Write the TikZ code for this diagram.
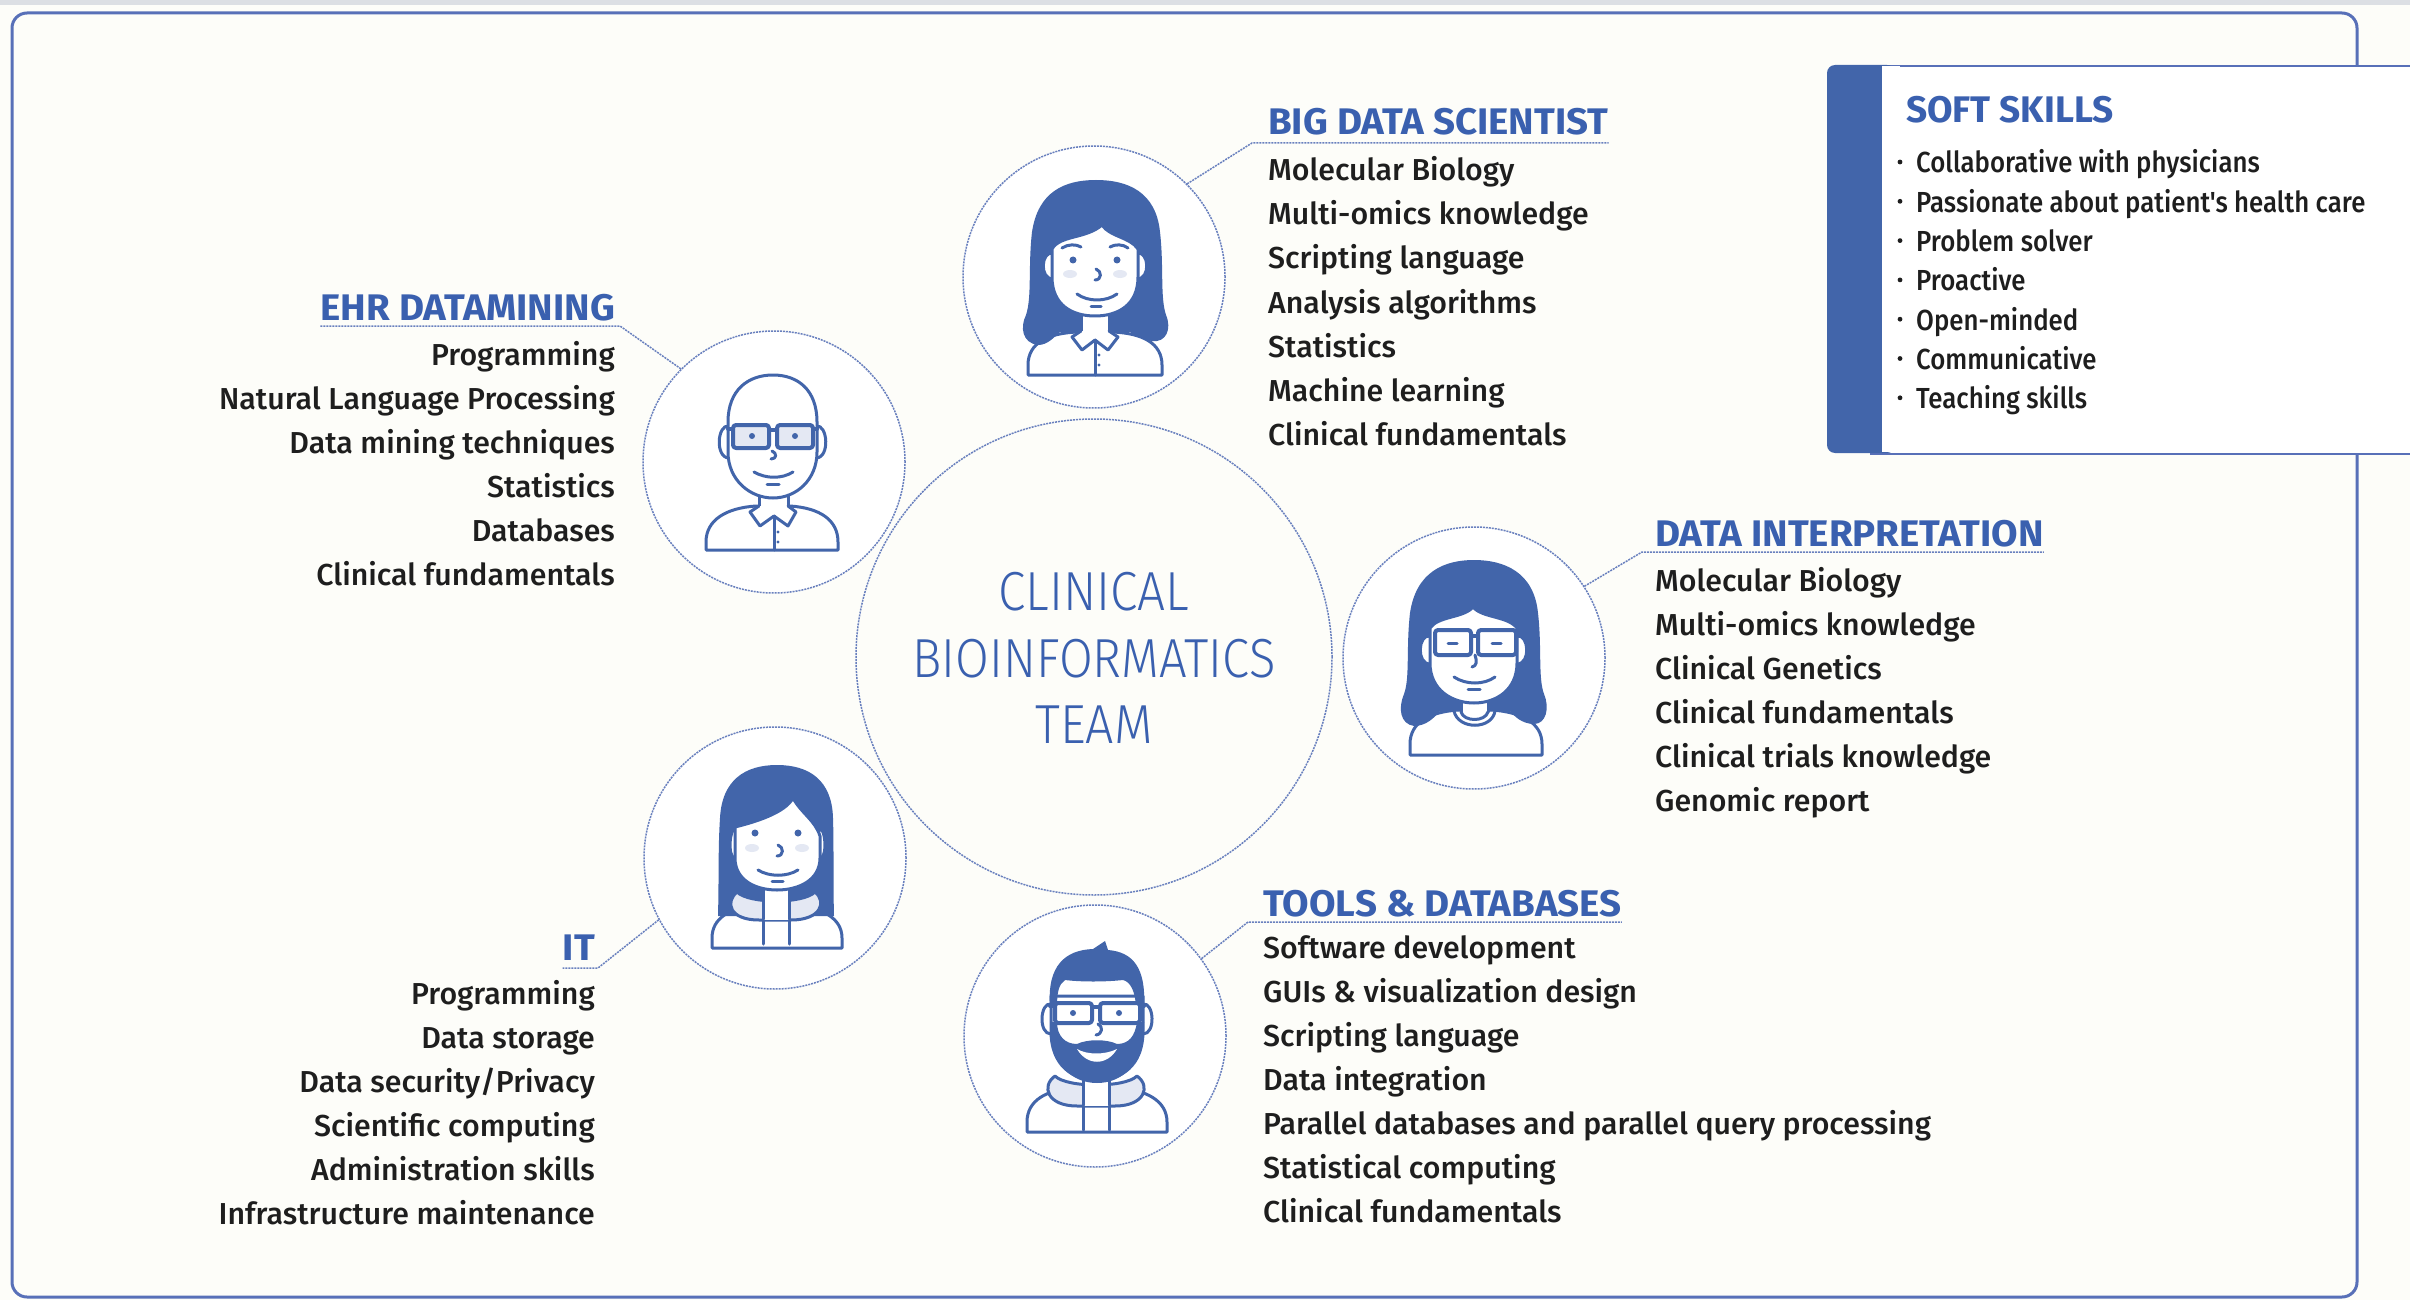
\documentclass[tikz,border=0pt]{standalone}
\usepackage{fontspec}
\setmainfont{Fira Sans}
\IfFontExistsTF{Fira Sans Light}{\newfontfamily\lightfont{Fira Sans Light}}{\newfontfamily\lightfont{Fira Sans}}
\IfFontExistsTF{Fira Sans Medium}{\newfontfamily\itemfont{Fira Sans Medium}}{\newfontfamily\itemfont{Fira Sans}}
\newcommand\headfont{\bfseries}
\newcommand\hd[1]{\scalebox{1.04}[1]{#1}}

\definecolor{hblue}{RGB}{58,96,175}
\definecolor{ablue}{RGB}{66,101,170}
\definecolor{dotblue}{RGB}{105,128,190}
\definecolor{frameblue}{RGB}{88,112,184}
\definecolor{ink}{RGB}{30,30,30}
\definecolor{paper}{RGB}{253,253,249}
\definecolor{strip}{RGB}{220,223,228}
\definecolor{blush}{RGB}{228,232,243}

\tikzset{
  ring/.style={circle, draw=dotblue, line width=1.5pt, dash pattern=on 2pt off 1pt, minimum size=262pt, inner sep=0pt},
  hub/.style={ring, minimum size=476pt},
  link/.style={draw=dotblue, line width=1.5pt, dash pattern=on 2pt off 1pt},
  head/.style={font=\headfont\fontsize{37}{40}\selectfont, text=hblue, inner sep=0pt},
  item/.style={font=\itemfont\fontsize{30.3}{36}\selectfont, text=ink, inner sep=0pt},
  hubtext/.style={font=\lightfont\fontsize{55}{60}\selectfont, text=hblue, inner sep=0pt},
  softhead/.style={font=\headfont\fontsize{37}{40}\selectfont, text=hblue, inner sep=0pt},
  softitem/.style={font=\itemfont\fontsize{29}{34}\selectfont, text=ink, inner sep=0pt},
  av/.style={draw=ablue, line width=3pt, line join=round, line cap=round},
  avf/.style={av, fill=white},
  glass/.style={av, line width=4pt, rounded corners=3pt},
}

\begin{document}
\begin{tikzpicture}[x=1pt, y=-1pt]
\useasboundingbox (0,0) rectangle (2410,1300);
\fill[paper] (0,0) rectangle (2410,1300);
\fill[strip] (0,0) rectangle (2410,5);

% outer frame
\draw[frameblue, line width=3pt, rounded corners=15pt] (12,13) rectangle (2357,1297);

% soft skills panel
\node[draw=frameblue, line width=2pt, fill=white, minimum width=560pt, minimum height=388pt, anchor=north west, inner sep=0pt] (soft) at (1870,65) {};
\fill[ablue, rounded corners=8pt] (1827,65) rectangle (1895,453);
\fill[white] (1882,66) rectangle (1900,452);
\node[softhead, anchor=base west] (softT) at (1906,123) {SOFT SKILLS};
\foreach \t [count=\i from 0] in {Collaborative with physicians, Passionate about patient's health care, Problem solver, Proactive, Open-minded, Communicative, Teaching skills}{
  \node[softitem, anchor=base west] (softI\i) at (1916,173+39.3*\i) {\scalebox{0.89}[1]{\t}};
  \fill[ink] (1900,162+39.3*\i) circle (2.4pt);
}

% central hub
\node[hub] (hub) at (1094,657) {};
\node[hubtext, anchor=base] (hubA) at (1094,610) {\scalebox{0.9}[1]{CLINICAL}};
\node[hubtext, anchor=base] (hubB) at (1094,677) {\scalebox{0.89}[1]{BIOINFORMATICS}};
\node[hubtext, anchor=base] (hubC) at (1094,743) {\scalebox{0.91}[1]{TEAM}};

% avatar rings
\node[ring, fill=white] (bds) at (1094,277) {};
\node[ring, fill=white] (ehr) at (774,462) {};
\node[ring, fill=white] (di) at (1474,658) {};
\node[ring, fill=white] (it) at (775,858) {};
\node[ring, fill=white] (tools) at (1095,1036) {};

% ---------- Big data scientist ----------
\node[head, anchor=base west] (bdsH) at (1268,135) {\hd{BIG DATA SCIENTIST}};
\coordinate (bdsU) at (1252,143);
\draw[link] (bds.45) -- (bdsU) -- (bdsU -| bdsH.east);
\foreach \t [count=\i from 0] in {Molecular Biology, Multi-omics knowledge, Scripting language, Analysis algorithms, Statistics, Machine learning, Clinical fundamentals}{
  \node[item, anchor=base west] (bdsI\i) at (1268,181+44*\i) {\t};
}

% ---------- EHR datamining ----------
\node[head, anchor=base east] (ehrH) at (615,320) {\hd{EHR DATAMINING}};
\coordinate (ehrU) at (620,326);
\draw[link] (ehr.135) -- (ehrU) -- (ehrU -| ehrH.west);
\foreach \t [count=\i from 0] in {Programming, Natural Language Processing, Data mining techniques, Statistics, Databases, Clinical fundamentals}{
  \node[item, anchor=base east] (ehrI\i) at (615,365+44*\i) {\t};
}

% ---------- Data interpretation ----------
\node[head, anchor=base west] (diH) at (1655,546) {\hd{DATA INTERPRETATION}};
\coordinate (diU) at (1642,552);
\draw[link] (di.33) -- (diU) -- (diU -| diH.east);
\foreach \t [count=\i from 0] in {Molecular Biology, Multi-omics knowledge, Clinical Genetics, Clinical fundamentals, Clinical trials knowledge, Genomic report}{
  \node[item, anchor=base west] (diI\i) at (1655,591+44*\i) {\t};
}

% ---------- IT ----------
\node[head, anchor=base east] (itH) at (595,960) {\hd{IT}};
\coordinate (itU) at (598,968);
\draw[link] (it.208) -- (itU) -- (itU -| itH.west);
\foreach \t [count=\i from 0] in {Programming, Data storage, Data security/Privacy, Scientific computing, Administration skills, Infrastructure maintenance}{
  \node[item, anchor=base east] (itI\i) at (595,1004+44*\i) {\t};
}

% ---------- Tools & databases ----------
\node[head, anchor=base west] (toolsH) at (1263,916) {\hd{TOOLS \& DATABASES}};
\coordinate (toolsU) at (1248,922);
\draw[link] (tools.36) -- (toolsU) -- (toolsU -| toolsH.east);
\foreach \t [count=\i from 0] in {Software development, GUIs \& visualization design, Scripting language, Data integration, Parallel databases and parallel query processing, Statistical computing, Clinical fundamentals}{
  \node[item, anchor=base west] (toolsI\i) at (1263,958+44*\i) {\t};
}

% ---------- avatar: long-haired woman, shirt ----------
\begin{scope}[shift={(1094,277)}]
  \draw[avf] (-66,98) -- (-66,88) .. controls (-66,66) and (-46,56) .. (-16,55) -- (18,55) .. controls (48,56) and (68,66) .. (68,88) -- (68,98) -- cycle;
  \fill[ablue] (-56,68) .. controls (-72,66) and (-74,50) .. (-68,38) .. controls (-62,20) and (-66,-10) .. (-62,-45)
     .. controls (-56,-85) and (-30,-97) .. (2,-97) .. controls (34,-97) and (62,-85) .. (66,-45)
     .. controls (70,-10) and (66,20) .. (72,38) .. controls (78,52) and (72,66) .. (58,64)
     .. controls (46,62) and (40,58) .. (36,55) -- (-34,55) .. controls (-40,60) and (-46,68) .. (-56,68) -- cycle;
  \fill[white] (-13,30) rectangle (15,58);
  \draw[av] (-13,30) -- (-13,56) (15,30) -- (15,56);
  \draw[avf] (-13,54) -- (-22,60) -- (-12,73) -- (1,63) -- (14,73) -- (24,60) -- (15,54);
  \draw[av] (1,63) -- (1,98);
  \fill[ablue] (5,78) circle (1.6pt) (5,88) circle (1.6pt);
  \draw[avf] (-41,-24) .. controls (-53,-26) and (-55,2) .. (-41,2);
  \draw[avf] (43,-24) .. controls (55,-26) and (57,2) .. (43,2);
  \draw[avf] (-42,-28) .. controls (-34,-42) and (-8,-38) .. (8,-52) .. controls (16,-40) and (36,-40) .. (44,-28) -- (44,0) .. controls (44,28) and (24,39) .. (1,39) .. controls (-22,39) and (-42,28) .. (-42,0) -- cycle;
  \fill[blush] (-24,-3) ellipse (7pt and 4pt) (26,-3) ellipse (7pt and 4pt);
  \draw[av] (-32,-29) .. controls (-26,-33) and (-18,-33) .. (-13,-30);
  \draw[av] (16,-30) .. controls (21,-33) and (29,-33) .. (34,-29);
  \fill[ablue] (-21,-17) circle (3.5pt) (23,-17) circle (3.5pt);
  \draw[av] (2,-8) .. controls (8,-6) and (8,3) .. (1,3);
  \draw[av] (-17,17) .. controls (-6,25) and (12,25) .. (23,17);
  \draw[av] (-3,29) -- (7,29);
\end{scope}

% ---------- avatar: bald man with glasses ----------
\begin{scope}[shift={(774,462)}]
  \draw[avf] (-68,88) -- (-68,80) .. controls (-68,58) and (-48,46) .. (-18,44) -- (16,44) .. controls (46,46) and (64,58) .. (64,80) -- (64,88) -- cycle;
  \fill[white] (-15,25) rectangle (14,48);
  \draw[av] (-15,25) -- (-15,46) (14,25) -- (14,46);
  \draw[avf] (-15,44) -- (-24,50) -- (-14,64) -- (0,54) -- (14,64) -- (22,50) -- (14,44);
  \draw[av] (0,54) -- (0,88);
  \fill[ablue] (4,70) circle (1.6pt) (4,80) circle (1.6pt);
  \draw[avf] (-45,-36) .. controls (-57,-38) and (-59,-4) .. (-45,-4);
  \draw[avf] (42,-36) .. controls (54,-38) and (56,-4) .. (42,-4);
  \draw[avf] (-46,-40) .. controls (-46,-72) and (-26,-87) .. (-1,-87) .. controls (24,-87) and (43,-72) .. (43,-40) -- (43,-10) .. controls (43,18) and (22,36) .. (-1,36) .. controls (-24,36) and (-46,18) .. (-46,-10) -- cycle;
  \draw[glass, fill=blush] (-41,-37) rectangle (-5,-14);
  \draw[glass, fill=blush] (3,-37) rectangle (39,-14);
  \draw[av, line width=4pt] (-5,-32) -- (3,-32) (-46,-33) -- (-41,-33) (39,-33) -- (43,-33);
  \fill[ablue] (-22,-26) circle (3pt) (21,-26) circle (3pt);
  \draw[av] (-2,-11) .. controls (3,-9) and (3,-3) .. (-3,-3);
  \draw[av] (-20,10) .. controls (-8,17) and (8,17) .. (19,10);
  \draw[av] (-7,22) -- (5,22);
\end{scope}

% ---------- avatar: long-haired woman with glasses ----------
\begin{scope}[shift={(1474,658)}]
  \draw[avf] (-64,97) -- (-64,86) .. controls (-64,64) and (-44,54) .. (-16,52) -- (18,52) .. controls (46,54) and (68,64) .. (68,86) -- (68,97) -- cycle;
  \fill[ablue] (-60,68) .. controls (-74,66) and (-76,50) .. (-70,36) .. controls (-64,20) and (-68,-10) .. (-64,-45)
     .. controls (-58,-86) and (-30,-98) .. (0,-98) .. controls (30,-98) and (60,-86) .. (64,-45)
     .. controls (68,-10) and (64,20) .. (70,36) .. controls (76,50) and (72,66) .. (60,66)
     .. controls (48,66) and (40,58) .. (36,53) -- (-34,53) .. controls (-40,60) and (-48,68) .. (-60,68) -- cycle;
  \fill[white] (-13,35) rectangle (14,56);
  \draw[av] (-13,35) -- (-13,54) (14,35) -- (14,54);
  \draw[av] (-20,53) .. controls (-16,72) and (18,72) .. (21,53);
  \draw[av] (-13,54) .. controls (-10,64) and (11,64) .. (14,54);
  \draw[avf] (-44,-22) .. controls (-56,-24) and (-58,6) .. (-44,6);
  \draw[avf] (43,-22) .. controls (55,-24) and (57,6) .. (43,6);
  \draw[avf] (-44,-30) .. controls (-36,-42) and (-10,-40) .. (-1,-51) .. controls (8,-40) and (34,-42) .. (43,-30) -- (43,5) .. controls (43,32) and (22,45) .. (0,45) .. controls (-22,45) and (-44,32) .. (-44,5) -- cycle;
  \draw[glass, fill=white] (-39,-28) rectangle (-3,-3);
  \draw[glass, fill=white] (4,-28) rectangle (42,-3);
  \draw[av, line width=4pt] (-3,-22) -- (4,-22);
  \draw[av] (-26,-15) -- (-17,-15) (18,-15) -- (27,-15);
  \draw[av] (1,-3) .. controls (3,3) and (3,8) .. (-2,9);
  \draw[av] (-20,19) .. controls (-8,27) and (10,27) .. (21,19);
  \draw[av] (-6,31) -- (6,31);
\end{scope}

% ---------- avatar: woman in hoodie ----------
\begin{scope}[shift={(775,858)}]
  \draw[avf] (-63,90) -- (-63,80) .. controls (-63,60) and (-45,50) .. (-20,48) -- (22,48) .. controls (47,50) and (67,60) .. (67,80) -- (67,90) -- cycle;
  \fill[ablue] (-57,58) .. controls (-56,20) and (-57,-10) .. (-55,-40) .. controls (-53,-78) and (-30,-93) .. (2,-93)
     .. controls (34,-93) and (57,-78) .. (58,-40) .. controls (59,-10) and (58,20) .. (59,58) -- cycle;
  \draw[avf, fill=blush] (-38,34) .. controls (-50,44) and (-46,62) .. (-16,62) -- (16,62) .. controls (46,62) and (52,44) .. (40,34) .. controls (28,46) and (-26,46) .. (-38,34) -- cycle;
  \fill[white] (-12,25) rectangle (14,62);
  \draw[av] (-12,25) -- (-12,61) (14,25) -- (14,61);
  \draw[av] (-12,62) -- (-12,86) (14,62) -- (14,86);
  \draw[avf] (-40,-28) .. controls (-45,-32) and (-48,0) .. (-40,0);
  \draw[avf] (45,-28) .. controls (50,-32) and (53,0) .. (45,0);
  \draw[avf] (-40,-31) .. controls (-20,-36) and (10,-45) .. (18,-60) .. controls (26,-45) and (40,-38) .. (45,-22) -- (45,0) .. controls (45,22) and (24,32) .. (2,32) .. controls (-20,32) and (-40,22) .. (-40,0) -- cycle;
  \fill[blush] (-23,-10) ellipse (7pt and 4pt) (27,-10) ellipse (7pt and 4pt);
  \fill[ablue] (-20,-25) circle (3.5pt) (23,-25) circle (3.5pt);
  \draw[av] (3,-13) .. controls (9,-11) and (9,-2) .. (2,-2);
  \draw[av] (-17,12) .. controls (-6,19) and (12,19) .. (23,12);
  \draw[av] (-3,23) -- (8,23);
\end{scope}

% ---------- avatar: bearded man with glasses ----------
\begin{scope}[shift={(1095,1036)}]
  \draw[avf] (-68,96) -- (-68,86) .. controls (-68,64) and (-48,54) .. (-22,52) -- (24,52) .. controls (50,54) and (72,64) .. (72,86) -- (72,96) -- cycle;
  \draw[avf, fill=blush] (-40,40) .. controls (-54,50) and (-48,70) .. (-18,70) -- (20,70) .. controls (50,70) and (56,50) .. (42,40) .. controls (30,52) and (-28,52) .. (-40,40) -- cycle;
  \fill[white] (-12,30) rectangle (14,70);
  \draw[av] (-12,30) -- (-12,69) (14,30) -- (14,69);
  \draw[av] (-12,70) -- (-12,94) (14,70) -- (14,94);
  \draw[avf] (-44,-32) .. controls (-55,-34) and (-57,-2) .. (-44,-2);
  \draw[avf] (48,-32) .. controls (59,-34) and (61,-2) .. (48,-2);
  \draw[avf] (-44,-40) -- (-44,-5) .. controls (-44,30) and (-22,44) .. (2,44) .. controls (26,44) and (48,30) .. (48,-5) -- (48,-40) -- cycle;
  \fill[ablue] (-45,-30) .. controls (-48,-70) and (-30,-86) .. (-2,-87) -- (10,-95) -- (13,-86)
     .. controls (38,-84) and (51,-68) .. (49,-30) -- (41,-30) .. controls (40,-44) and (36,-54) .. (28,-56)
     .. controls (10,-54) and (-14,-54) .. (-30,-56) .. controls (-36,-52) and (-38,-44) .. (-38,-30) -- cycle;
  \fill[ablue] (-45,-14) .. controls (-45,30) and (-22,47) .. (2,47) .. controls (26,47) and (49,30) .. (49,-14)
     -- (42,-14) .. controls (40,0) and (34,8) .. (22,8) .. controls (12,3) and (-8,3) .. (-18,8)
     .. controls (-30,8) and (-38,0) .. (-38,-14) -- cycle;
  \fill[white] (-18,13) .. controls (-8,30) and (12,30) .. (22,13) .. controls (10,19) and (-8,19) .. (-18,13) -- cycle;
  \draw[glass, fill=white] (-40,-33) rectangle (-3,-13);
  \draw[glass, fill=white] (5,-33) rectangle (45,-13);
  \draw[av, line width=4pt] (-3,-29) -- (5,-29) (-45,-30) -- (-40,-30) (45,-30) -- (49,-30);
  \fill[ablue] (-22,-23) circle (3pt) (24,-23) circle (3pt);
  \draw[av] (3,-12) .. controls (8,-10) and (8,-2) .. (1,-1);
\end{scope}
\end{tikzpicture}
\end{document}
